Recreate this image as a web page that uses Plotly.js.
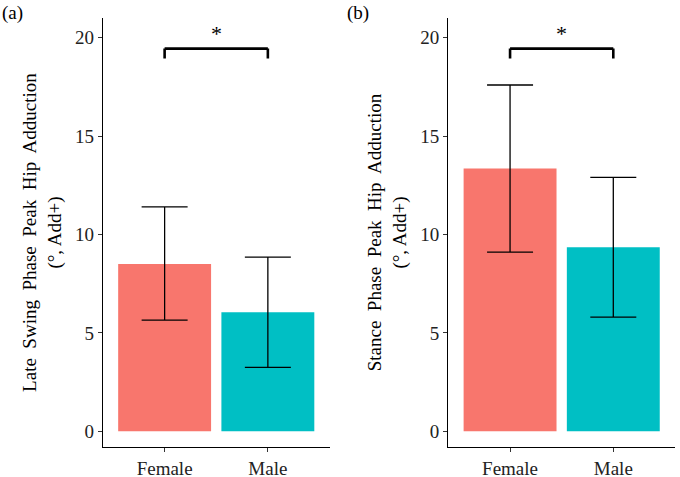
<!DOCTYPE html>
<html><head><meta charset="utf-8">
<script src="https://cdn.plot.ly/plotly-3.0.1.min.js"></script>
<style>body{margin:0}#c{width:680px;height:477px}</style>
</head><body><div id="c"></div>
<script>
const groups = ["Female", "Male"];
const colors = ["#F8766D", "#00BFC4"];
const lateMean = [8.5, 6.05];
const lateLow = [5.65, 3.25];
const lateHigh = [11.4, 8.85];
const stanceMean = [13.35, 9.35];
const stanceLow = [9.1, 5.8];
const stanceHigh = [17.6, 12.9];

const font = "'Liberation Serif', 'Times New Roman', serif";

function barTrace(mean, lo, hi, xa, ya) {
  return {
    type: "bar", x: groups, y: mean, xaxis: xa, yaxis: ya, width: 0.9,
    marker: { color: colors },
    error_y: { type: "data", symmetric: false,
      array: mean.map((m, i) => hi[i] - m),
      arrayminus: mean.map((m, i) => m - lo[i]),
      color: "#000", thickness: 1.3, width: 23 },
    hoverinfo: "skip"
  };
}

function bracket(xr, yr) {
  const line = { color: "#000", width: 2.6 };
  return [
    { type: "line", xref: xr, yref: yr, x0: 0, x1: 1, y0: 19.45, y1: 19.45, line },
    { type: "line", xref: xr, yref: yr, x0: 0, x1: 0, y0: 19.45, y1: 18.95, line },
    { type: "line", xref: xr, yref: yr, x0: 1, x1: 1, y0: 19.45, y1: 18.95, line }
  ];
}

const xax = d => ({ domain: d, range: [-0.6, 1.6], showline: true, linecolor: "#000", linewidth: 1,
  ticks: "outside", ticklen: 4, tickcolor: "#333", tickfont: { family: font, size: 19, color: "#222" }, showgrid: false });
const yax = (anchor, title) => ({ anchor, domain: [0.063, 0.962], range: [-0.8, 21], showline: true, linecolor: "#000", linewidth: 1,
  ticks: "outside", ticklen: 4, tickcolor: "#333", tickvals: [0, 5, 10, 15, 20], zeroline: false, showgrid: false,
  tickfont: { family: font, size: 19, color: "#222" },
  title: { text: title, font: { family: font, size: 19, color: "#000" }, standoff: 8 } });

const layout = {
  width: 680, height: 477, margin: { l: 0, r: 0, t: 0, b: 0 },
  paper_bgcolor: "#fff", plot_bgcolor: "#fff", showlegend: false, bargap: 0.1,
  font: { family: font },
  xaxis: { ...xax([0.151, 0.485]), anchor: "y" },
  yaxis: yax("x", "Late  Swing  Phase  Peak  Hip  Adduction<br>(°, Add+)"),
  xaxis2: { ...xax([0.659, 0.993]), anchor: "y2" },
  yaxis2: yax("x2", "Stance  Phase  Peak  Hip  Adduction<br>(°, Add+)"),
  shapes: [...bracket("x", "y"), ...bracket("x2", "y2")],
  annotations: [
    { text: "*", x: 0.5, y: 19.5, xref: "x", yref: "y", yanchor: "bottom", showarrow: false, font: { family: font, size: 22, color: "#000" } },
    { text: "*", x: 0.5, y: 19.5, xref: "x2", yref: "y2", yanchor: "bottom", showarrow: false, font: { family: font, size: 22, color: "#000" } },
    { text: "(a)", x: 0, y: 1, xref: "paper", yref: "paper", xanchor: "left", yanchor: "top", showarrow: false, font: { family: font, size: 19, color: "#000" } },
    { text: "(b)", x: 0.508, y: 1, xref: "paper", yref: "paper", xanchor: "left", yanchor: "top", showarrow: false, font: { family: font, size: 19, color: "#000" } }
  ]
};

Plotly.newPlot("c", [
  barTrace(lateMean, lateLow, lateHigh, "x", "y"),
  barTrace(stanceMean, stanceLow, stanceHigh, "x2", "y2")
], layout, { displayModeBar: false });
</script></body></html>
